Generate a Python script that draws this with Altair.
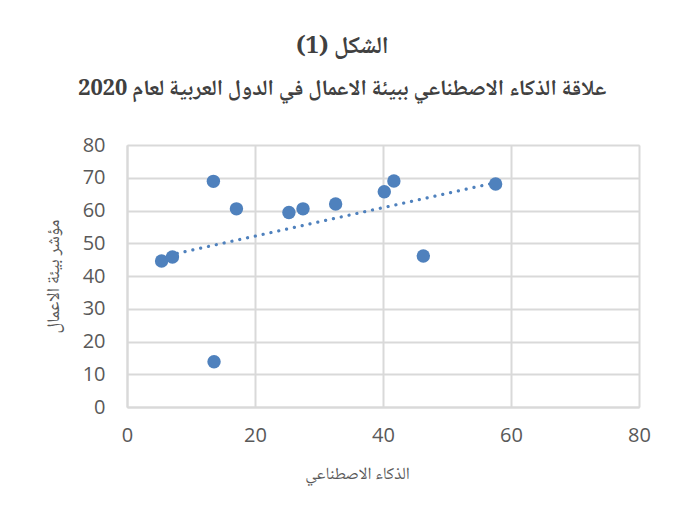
import altair as alt
import pandas as pd

# Data
ai_index = [5.4, 7.1, 13.5, 17.1, 25.3, 27.5, 32.6, 40.2, 41.7, 46.3, 57.6, 13.6]
business_env = [44.6, 45.8, 68.9, 60.5, 59.4, 60.5, 62.0, 65.7, 69.0, 46.1, 68.1, 13.8]
x_ticks = [0, 20, 40, 60, 80]
y_ticks = [0, 10, 20, 30, 40, 50, 60, 70, 80]

title_text = "الشكل (1)"
subtitle_text = "علاقة الذكاء الاصطناعي ببيئة الاعمال في الدول العربية لعام 2020"
x_title = "الذكاء الاصطناعي"
y_title = "مؤشر بيئة الاعمال"

df = pd.DataFrame({"x": ai_index, "y": business_env})

AR_FONT = "'Noto Naskh Arabic', 'Traditional Arabic', 'DejaVu Sans', sans-serif"
NUM_FONT = "'Open Sans', 'Noto Sans', sans-serif"
BLUE = "#4f81bd"
GRID = "#d9d9d9"
LABEL = "#595959"

x_enc = alt.X(
    "x:Q",
    scale=alt.Scale(domain=[0, 80], nice=False),
    axis=alt.Axis(
        values=x_ticks, title=x_title, titleFont=AR_FONT, titleFontSize=17,
        titleFontWeight="normal", titleColor=LABEL, titlePadding=20,
        titleX=230, titleAlign="center", titleAnchor="start",
        labelFont=NUM_FONT, labelFontSize=20, labelColor=LABEL,
        labelPadding=18, ticks=False, domainColor=GRID, domainWidth=2,
        gridColor=GRID, gridWidth=2, labelFlush=False,
    ),
)
y_enc = alt.Y(
    "y:Q",
    scale=alt.Scale(domain=[0, 80], nice=False),
    axis=alt.Axis(
        values=y_ticks, title=y_title, titleFont=AR_FONT, titleFontSize=18,
        titleFontWeight="normal", titleColor=LABEL, titlePadding=20,
        labelFont=NUM_FONT, labelFontSize=20, labelColor=LABEL,
        labelPadding=22, ticks=False, domainColor=GRID, domainWidth=2,
        gridColor=GRID, gridWidth=2, labelFlush=False,
    ),
)

trend = (
    alt.Chart(df)
    .transform_regression("x", "y")
    .mark_line(color=BLUE, strokeWidth=3.2, strokeDash=[0.1, 7.9], strokeCap="round")
    .encode(x=x_enc, y=y_enc)
)

points = (
    alt.Chart(df)
    .mark_circle(color=BLUE, size=180, opacity=1)
    .encode(x=x_enc, y=y_enc)
)

chart = (
    alt.layer(trend, points)
    .properties(
        width=512,
        height=262,
        autosize=alt.AutoSizeParams(type="none"),
        padding={"left": 119, "top": 137, "right": 27, "bottom": 101},
        title=alt.TitleParams(
            text=title_text,
            subtitle=subtitle_text,
            font=AR_FONT,
            fontSize=24,
            fontWeight="bold",
            color="#404040",
            subtitleFont=AR_FONT,
            subtitleFontSize=22,
            subtitleFontWeight="bold",
            subtitleColor="#404040",
            subtitlePadding=20,
            anchor="middle",
            frame="bounds",
            offset=36,
            dx=-5,
        ),
    )
    .configure_view(stroke=None)
    .configure(background="white")
)

chart.save("out.html", embed_options={"renderer": "svg", "actions": False})
